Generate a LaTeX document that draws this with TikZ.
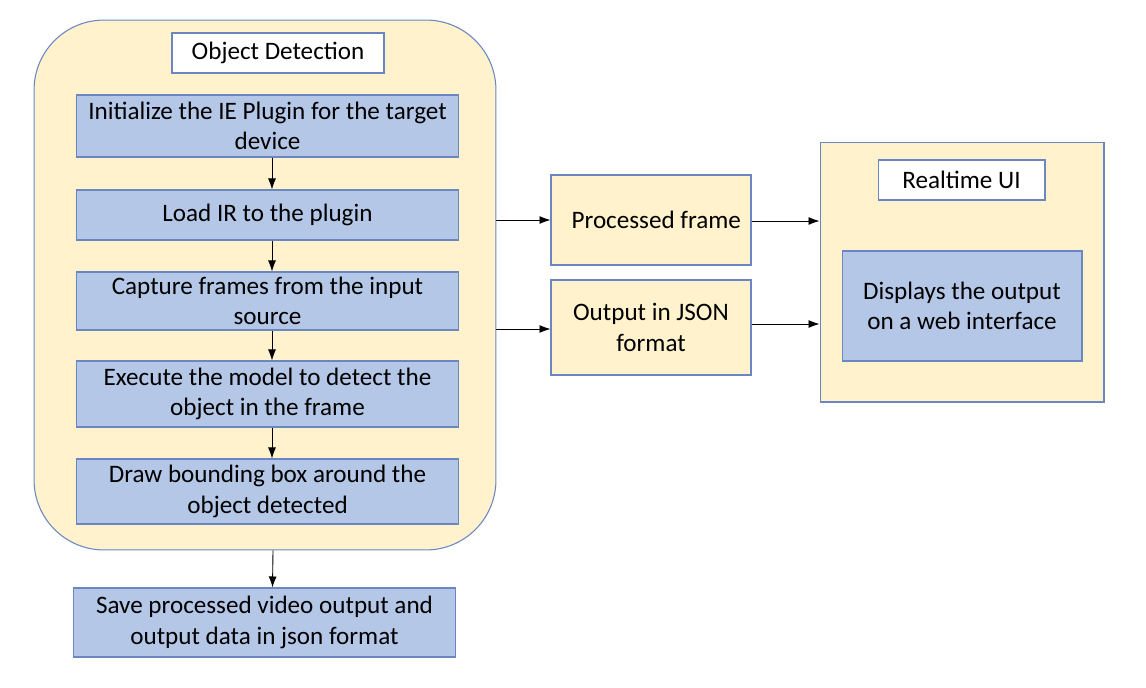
\documentclass[tikz,border=0pt]{standalone}
\usepackage{fontspec}
\setmainfont{Carlito}
\usepackage{tikz}
\usetikzlibrary{arrows.meta}
\usetikzlibrary{positioning}
\definecolor{panel}{HTML}{FFF2CC}
\definecolor{stepfill}{HTML}{B4C7E7}
\definecolor{edgeblue}{HTML}{6B86C0}

\begin{document}
\begin{tikzpicture}[x=0.02cm,y=-0.02cm,>={Latex[length=2.2mm,width=1.6mm]},
	every node/.style={font=\fontsize{14.3}{17.2}\selectfont, align=center, inner sep=2pt},
	group box/.style={draw=edgeblue, fill=panel, line width=0.6pt},
	title box/.style={draw=edgeblue, fill=white, line width=0.6pt},
	step box/.style={draw=edgeblue, fill=stepfill, line width=0.6pt, minimum width=7.66cm},
	data box/.style={draw=edgeblue, fill=panel, line width=0.6pt, minimum width=4cm},
	flow/.style={->, line width=0.5pt}]

  \useasboundingbox (0,0) rectangle (1146,687);

  % object detection panel
  \node[group box, rounded corners=1.4cm, minimum width=9.24cm, minimum height=10.6cm] (od) at (265,285) {};
  \node[title box, minimum width=4.24cm, minimum height=0.8cm] (odtitle) at (278,53) {Object Detection};

  \node[step box, minimum height=1.24cm] (s1) at (267.5,126) {Initialize the IE Plugin for the target\\device};
  \node[step box, minimum height=1.0cm] (s2) at (267.5,215) {Load IR to the plugin};
  \node[step box, minimum height=1.16cm] (s3) at (267.5,301) {Capture frames from the input\\source};
  \node[step box, minimum height=1.32cm] (s4) at (267.5,394) {Execute the model to detect the\\object in the frame};
  \node[step box, minimum height=1.3cm] (s5) at (267.5,491.5) {Draw bounding box around the\\object detected};

  \node[step box, minimum height=1.38cm] (save) at (264.5,622.5) {Save processed video output and\\output data in json format};

  % outputs
  \node[data box, minimum height=1.8cm] (frame) at (651,220) {\hspace{6pt}Processed frame};
  \node[data box, minimum height=1.9cm] (json) at (651,327.5) {Output in JSON\\format};

  % realtime UI panel
  \node[group box, minimum width=5.68cm, minimum height=5.2cm] (ui) at (962,272) {};
  \node[title box, minimum width=3.34cm, minimum height=0.8cm] (uititle) at (961.5,180) {Realtime UI};
  \node[step box, minimum width=4.8cm, minimum height=2.2cm] (disp) at (962,306) {Displays the output\\on a web interface};

  \draw[flow] ([xshift=0.09cm]s1.south) -- ([xshift=0.09cm]s2.north);
  \draw[flow] ([xshift=0.09cm]s2.south) -- ([xshift=0.09cm]s3.north);
  \draw[flow] ([xshift=0.09cm]s3.south) -- ([xshift=0.09cm]s4.north);
  \draw[flow] ([xshift=0.09cm]s4.south) -- ([xshift=0.09cm]s5.north);
  \draw[flow] ([xshift=0.16cm]od.south) -- ([xshift=0.16cm]save.north);

  \draw[flow] (od.east |- frame.west) -- (frame.west);
  \draw[flow] ([yshift=-0.03cm]od.east |- json.west) -- ([yshift=-0.03cm]json.west);
  \draw[flow] ([yshift=-0.02cm]frame.east) -- ([yshift=-0.02cm]frame.east -| ui.west);
  \draw[flow] ([yshift=0.07cm]json.east) -- ([yshift=0.07cm]json.east -| ui.west);
\end{tikzpicture}
\end{document}
